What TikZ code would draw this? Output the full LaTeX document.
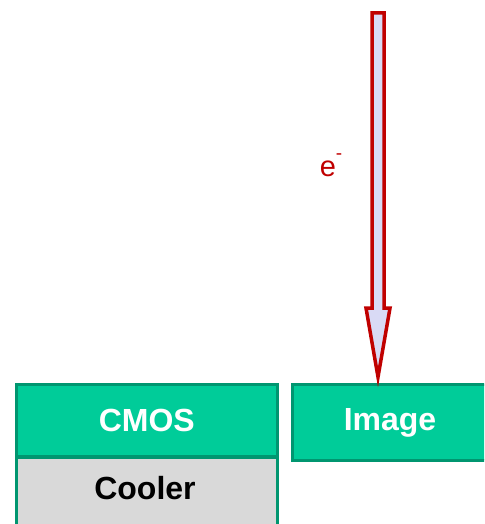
\documentclass[tikz,border=0pt]{standalone}
\usepackage{fontspec}
\setmainfont{Liberation Sans}
\definecolor{boxgreen}{RGB}{0,204,153}
\definecolor{edgegreen}{RGB}{0,150,112}
\definecolor{coolgray}{RGB}{217,217,217}
\definecolor{arrred}{RGB}{192,0,0}
\definecolor{arrfill}{RGB}{217,218,245}
\begin{document}
\begin{tikzpicture}[x=1pt,y=-1pt,
  blk/.style={draw=edgegreen,line width=2.5pt,inner sep=0pt,font=\bfseries\fontsize{32}{32}\selectfont},
  greenblk/.style={blk,fill=boxgreen,text=white},
  grayblk/.style={blk,fill=coolgray,text=black}]
\useasboundingbox (0,0) rectangle (484,524);
\clip (0,0) rectangle (484,524);
\node[greenblk,minimum width=261pt,minimum height=72pt,anchor=north west] (cmos) at (15,383) {CMOS};
\node[grayblk,minimum width=261pt,minimum height=80pt,anchor=north west] (cooler) at (15,455) {};
\node[font=\bfseries\fontsize{32}{32}\selectfont] (coolertxt) at (145,488) {Cooler};
\draw[edgegreen,line width=2.5pt] (cmos.south west) -- (cmos.south east);
\node[greenblk,minimum width=220pt,minimum height=76pt,anchor=north west] (image) at (291,383) {};
\node[text=white,font=\bfseries\fontsize{32}{32}\selectfont] (imagetxt) at (390,423) {Image};
\coordinate (tip) at (378,377);
\draw[arrred,fill=arrfill,line width=3.5pt,miter limit=10]
  (372,13) -- (384,13) -- (384,308) -- (390,308) -- (tip) -- (366,308) -- (372,308) -- cycle;
\node[text=arrred,font=\fontsize{29}{29}\selectfont] (elabel) at (331,165) {e\raisebox{0.6em}{\fontsize{19}{19}\selectfont -}};
\end{tikzpicture}
\end{document}
